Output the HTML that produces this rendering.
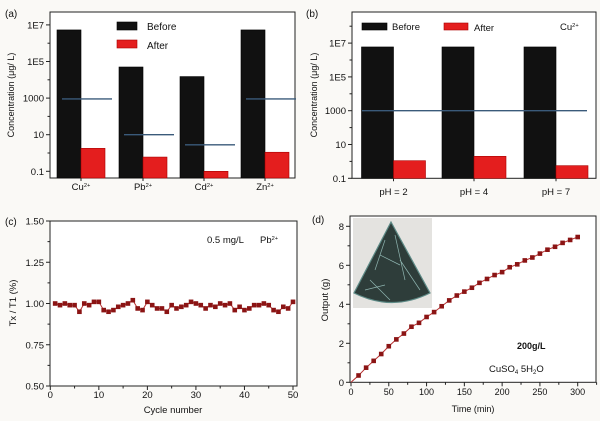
<!DOCTYPE html>
<html><head><meta charset="utf-8"><style>
body{margin:0;background:#faf9f6;}
svg{display:block;font-family:"Liberation Sans",sans-serif;}
text{fill:#111;}
</style></head><body>
<svg id="s" width="600" height="421" viewBox="0 0 600 421">
<rect x="0" y="0" width="600" height="421" fill="#faf9f6"/>
</svg>
<script>
const ionCats=["Cu","Pb","Cd","Zn"];
const ionBefore=[5.3e6,5e4,1.5e4,5.3e6];
const ionAfter=[1.8,0.6,0.1,1.1];
const ionLimit=[900,10,2.8,900];
const phCats=["pH = 2","pH = 4","pH = 7"];
const phBefore=[5.9e6,5.9e6,5.9e6];
const phAfter=[1.1,2.0,0.56];
const phLimit=1000;
const cycleVals=[1.00,0.99,1.00,0.99,0.99,0.95,1.00,0.99,1.01,1.01,0.96,0.95,0.96,0.98,0.99,1.00,1.02,0.97,0.96,1.01,0.99,0.97,0.97,0.95,0.99,0.97,0.98,0.99,1.01,1.00,0.99,0.97,0.99,0.98,1.00,0.99,1.00,0.96,0.98,0.96,0.97,0.99,0.99,1.00,0.99,0.96,0.95,0.98,0.97,1.01];
const timeVals=[0,10,20,30,40,50,60,70,80,90,100,110,120,130,140,150,160,170,180,190,200,210,220,230,240,250,260,270,280,290,300];
const outputVals=[0,0.35,0.75,1.1,1.45,1.85,2.2,2.5,2.85,3.05,3.35,3.6,3.9,4.2,4.45,4.65,4.85,5.1,5.3,5.5,5.65,5.9,6.05,6.25,6.4,6.6,6.8,6.95,7.15,7.3,7.45];
const logTicks=["0.1","10","1000","1E5","1E7"];
const cTicks=["0.50","0.75","1.00","1.25","1.50"];
const dYTicks=["0","2","4","6","8"];
const dXTicks=["0","50","100","150","200","250","300"];
const cXTicks=["0","10","20","30","40","50"];

const S=document.getElementById('s');const NS="http://www.w3.org/2000/svg";
function el(t,a,txt){const e=document.createElementNS(NS,t);for(const k in a)e.setAttribute(k,a[k]);if(txt!==undefined)e.textContent=txt;S.appendChild(e);return e;}
function tx(x,y,s,sz,anchor,name,extra){const e=el('text',Object.assign({x:x,y:y,'font-size':sz,'text-anchor':anchor||'start'},extra||{}),s);

return e;}
function sup(x,y,base,sp,sz,anchor,name){const e=el('text',{x:x,y:y,'font-size':sz,'text-anchor':anchor});e.textContent=base;const t=document.createElementNS(NS,'tspan');t.setAttribute('dy',-3);t.setAttribute('font-size',sz*0.6);t.textContent=sp;e.appendChild(t);

return e;}
function box(x0,y0,x1,y1,name){const r=el('rect',{x:x0,y:y0,width:x1-x0,height:y1-y0,fill:'#fff',stroke:'#222','stroke-width':1});

}
function line(x1,y1,x2,y2,c,w,name){const l=el('line',{x1:x1,y1:y1,x2:x2,y2:y2,stroke:c,'stroke-width':w});

return l;}
function rect(x,y,w,h,f,name){const r=el('rect',{x:x,y:y,width:w,height:h,fill:f,stroke:f=='#e41e1e'?'#a00':'#000','stroke-width':0.6});

return r;}

// ---------- Panel a ----------
(function(){
 const x0=50,x1=295,y0=12,y1=178;
 const ya=v=>171.3-(Math.log10(v)+1)*18.3;
 box(x0,y0,x1,y1,'panel-a-plot-area');
 tx(5,17,'(a)',10,'start','panel-a-label');
 logTicks.forEach((t,i)=>{const y=171.3-i*2*18.3;line(x0-4,y,x0,y,'#222',1,'y-tick');tx(x0-6,y+3.5,t,9.5,'end','y-tick-label');
  const ym=y-18.3;if(ym>y0)line(x0-2.5,ym,x0,ym,'#222',1,'y-minor-tick');});
 const centers=[81,143,204,265];
 ionCats.forEach((c,i)=>{const cx=centers[i];
  rect(cx-24,ya(ionBefore[i]),24,y1-ya(ionBefore[i]),'#111','bar-before-'+c.toLowerCase());
  rect(cx,ya(ionAfter[i]),24,y1-ya(ionAfter[i]),'#e41e1e','bar-after-'+c.toLowerCase());
  line(cx-19,ya(ionLimit[i]),cx+31,ya(ionLimit[i]),'#3a5a7a',1.3,'limit-line-'+c.toLowerCase());
  line(cx,y1,cx,y1+3,'#222',1,'x-tick');
  sup(cx,190,c,'2+',9.5,'middle','x-tick-label');});
 rect(117,22,20,8,'#111','legend-before-swatch');tx(147,30,'Before',10,'start','legend-before-label');
 rect(117,40,20,8,'#e41e1e','legend-after-swatch');tx(147,49,'After',10,'start','legend-after-label');
 tx(0,0,'Concentration (μg/ L)',9,'middle','y-axis-title',{transform:'translate(14,95) rotate(-90)'});
})();

// ---------- Panel b ----------
(function(){
 const x0=352,x1=596,y0=12,y1=178.3;
 const ya=v=>178.3-(Math.log10(v)+1)*16.9;
 box(x0,y0,x1,y1,'panel-b-plot-area');
 tx(306,17,'(b)',10,'start','panel-b-label');
 logTicks.forEach((t,i)=>{const y=178.3-i*2*16.9;line(x0-4,y,x0,y,'#222',1,'y-tick');tx(x0-6,y+3.5,t,9.5,'end','y-tick-label');
  [16.9,33.8,50.7].forEach(d=>{const ym=y-d;if(ym>y0&&(d==16.9||i==4))line(x0-2.5,ym,x0,ym,'#222',1,'y-minor-tick');});});
 const centers=[393.5,474,556];
 phCats.forEach((c,i)=>{const cx=centers[i];
  rect(cx-32,ya(phBefore[i]),32,y1-ya(phBefore[i]),'#111','bar-before-ph'+(i+1));
  rect(cx,ya(phAfter[i]),32,y1-ya(phAfter[i]),'#e41e1e','bar-after-ph'+(i+1));
  line(cx,y1,cx,y1+3,'#222',1,'x-tick');
  tx(cx,195,c,9.5,'middle','x-tick-label');});
 line(362,ya(phLimit),587,ya(phLimit),'#3a5a7a',1.3,'limit-line');
 rect(362,23,25,7,'#111','legend-before-swatch');tx(392,30,'Before',9.5,'start','legend-before-label');
 rect(444,23,24,7,'#e41e1e','legend-after-swatch');tx(474,31,'After',9.5,'start','legend-after-label');
 sup(560,30,'Cu','2+',9.5,'start','ion-label');
 tx(0,0,'Concentration (μg/ L)',9,'middle','y-axis-title',{transform:'translate(317,95) rotate(-90)'});
})();

// ---------- Panel c ----------
(function(){
 const x0=50,x1=297,y0=221,y1=386;
 const xa=v=>50.3+v*(293-50.3)/50, ya=v=>386-(v-0.5)*(165/1.0);
 box(x0,y0,x1,y1,'panel-c-plot-area');
 tx(5,225,'(c)',10,'start','panel-c-label');
 cTicks.forEach(t=>{const y=ya(+t);line(x0-4,y,x0,y,'#222',1,'y-tick');tx(x0-6,y+3.5,t,9.5,'end','y-tick-label');
  if(+t<1.5)line(x0-2.5,ya(+t+0.125),x0,ya(+t+0.125),'#222',1,'y-minor-tick');});
 cXTicks.forEach(t=>{const x=xa(+t);line(x,y1,x,y1+4,'#222',1,'x-tick');tx(x,398,t,9.5,'middle','x-tick-label');
  if(+t<50)line(xa(+t+5),y1,xa(+t+5),y1+2.5,'#222',1,'x-minor-tick');});
 const pts=cycleVals.map((v,i)=>xa(i+1)+','+ya(v)).join(' ');
 const pl=el('polyline',{points:pts,fill:'none',stroke:'#b83030','stroke-width':1});
 
 
 cycleVals.forEach((v,i)=>{const r=el('rect',{x:xa(i+1)-2.3,y:ya(v)-2.3,width:4.6,height:4.6,fill:'#8b1414'});
  
  });
 tx(207,243,'0.5 mg/L',9.5,'start','concentration-label');
 sup(260,243,'Pb','2+',9.5,'start','ion-label');
 tx(173,413,'Cycle number',9.5,'middle','x-axis-title');
 tx(0,0,'Tx / T1 (%)',9.5,'middle','y-axis-title',{transform:'translate(16,303) rotate(-90)'});
})();

// ---------- Panel d ----------
(function(){
 const x0=350,x1=596,y0=216,y1=382.3;
 const xa=v=>351+v*(577.7-351)/300, ya=v=>382.3-v*19.5;
 box(x0,y0,x1,y1,'panel-d-plot-area');
 tx(312,223,'(d)',10,'start','panel-d-label');
 dYTicks.forEach(t=>{const y=ya(+t);line(x0-4,y,x0,y,'#222',1,'y-tick');tx(x0-6,y+3.5,t,9.5,'end','y-tick-label');
  if(+t<8)line(x0-2.5,ya(+t+1),x0,ya(+t+1),'#222',1,'y-minor-tick');});
 dXTicks.forEach(t=>{const x=xa(+t);line(x,y1,x,y1+4,'#222',1,'x-tick');tx(x,395,t,9,'middle','x-tick-label');
  line(xa(+t+25),y1,xa(+t+25),y1+2.5,'#222',1,'x-minor-tick');});
 const bg=el('rect',{x:353,y:218,width:79,height:90,fill:'#e4e3e0'});
 
 
 const cone=el('path',{d:'M391,222 L354,293 Q392,312 430,293 Z',fill:'#2e3d3a',stroke:'#5d8a86','stroke-width':1.2});
 
 
 const tex=el('path',{d:'M385,240 L375,270 M395,235 L405,280 M370,280 L390,300 M400,260 L420,290 M380,255 L400,265 M365,290 L385,285',stroke:'#8fb5b0','stroke-width':0.7,fill:'none'});
 
 
 const pts=timeVals.map((t,i)=>xa(t)+','+ya(outputVals[i])).join(' ');
 const pl=el('polyline',{points:pts,fill:'none',stroke:'#b83030','stroke-width':1});
 
 
 timeVals.forEach((t,i)=>{if(i==0)return;const r=el('rect',{x:xa(t)-2.3,y:ya(outputVals[i])-2.3,width:4.6,height:4.6,fill:'#8b1414'});
  
  });
 tx(517,349,'200g/L',9,'start','concentration-label',{'font-weight':'bold'});
 const f=el('text',{x:489,y:372,'font-size':9.5});f.innerHTML='CuSO<tspan font-size="6" dy="2">4</tspan><tspan dy="-2"> 5H</tspan><tspan font-size="6" dy="2">2</tspan><tspan dy="-2">O</tspan>';
 
 
 tx(473,412,'Time (min)',9,'middle','x-axis-title');
 tx(0,0,'Output (g)',9.5,'middle','y-axis-title',{transform:'translate(328,300) rotate(-90)'});
})();
</script>
</body></html>
